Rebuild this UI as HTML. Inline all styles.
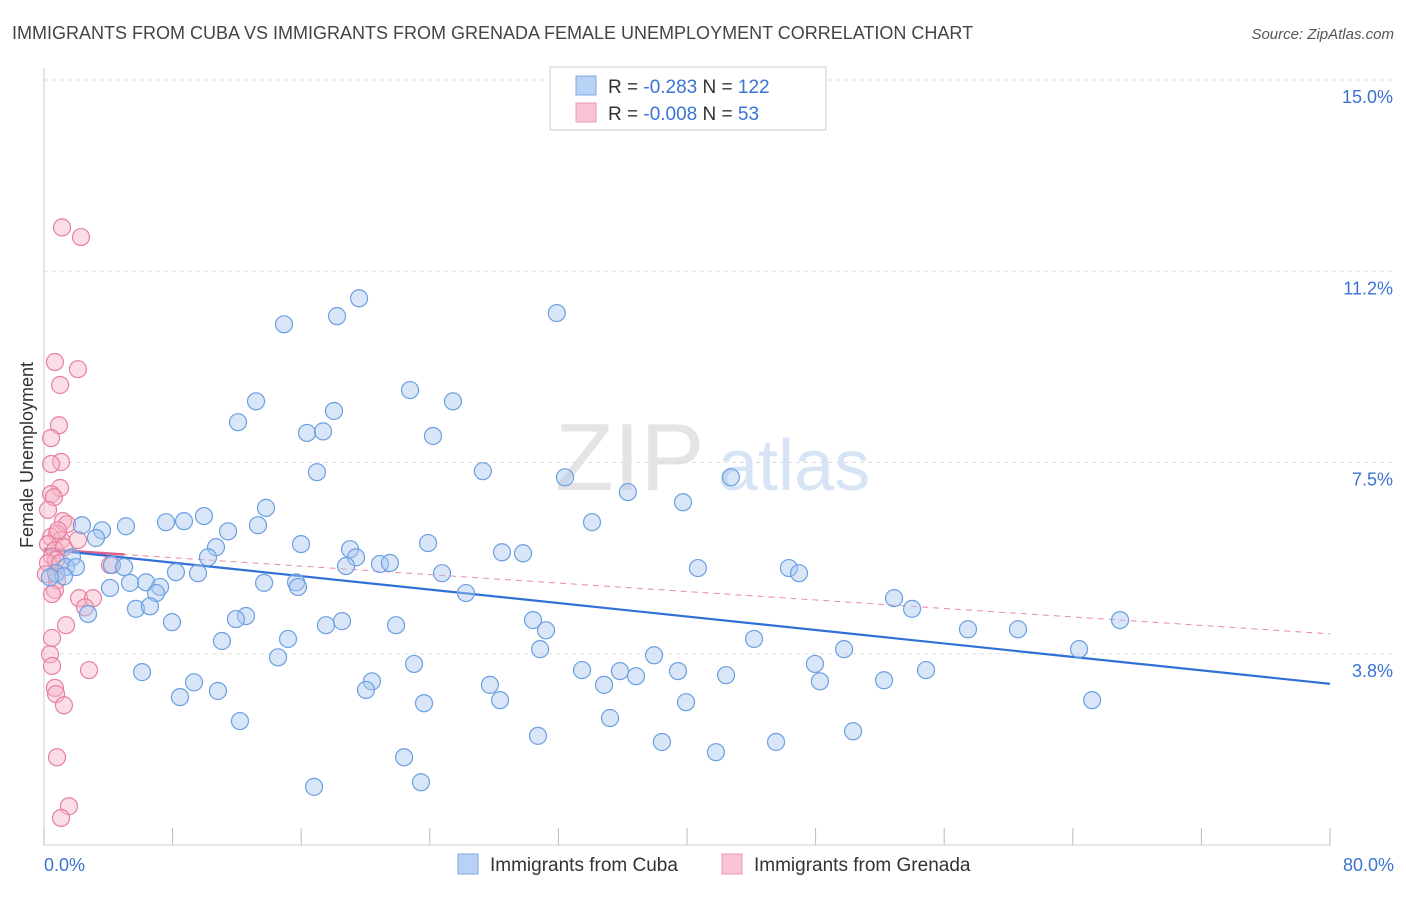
<!DOCTYPE html>
<html><head><meta charset="utf-8"><style>
body{margin:0;background:#fff;font-family:"Liberation Sans",sans-serif;}
svg text{font-family:"Liberation Sans",sans-serif;}
</style></head><body>
<svg id="chart" width="1406" height="892" viewBox="0 0 1406 892" xmlns="http://www.w3.org/2000/svg">
<text x="12" y="39" font-size="18" fill="#444">IMMIGRANTS FROM CUBA VS IMMIGRANTS FROM GRENADA FEMALE UNEMPLOYMENT CORRELATION CHART</text>
<text x="1394" y="39" font-size="15" fill="#555" text-anchor="end" font-style="italic">Source: ZipAtlas.com</text>
<g><text x="555" y="490" font-size="96" fill="#e4e4e4" font-family="Liberation Serif,serif">ZIP</text><text x="718" y="490" font-size="72" fill="#d6e4f5">atlas</text></g>
<g id="grid"></g>
<g id="axes"></g>
<g id="trends"></g>
<g id="points"></g>
<text transform="translate(33,455) rotate(-90)" font-size="18" fill="#333" text-anchor="middle">Female Unemployment</text>
<g>
<rect x="550" y="67" width="276" height="63" fill="#fff" stroke="#ccc"/>
<rect x="576" y="76" width="20" height="19" fill="#b7d2f5" stroke="#7fa8e0"/>
<rect x="576" y="103" width="20" height="19" fill="#f8c4d4" stroke="#ea9ab4"/>
<text x="608" y="93" font-size="19" fill="#333">R = <tspan fill="#3b73d4">-0.283</tspan>   N = <tspan fill="#3b73d4">122</tspan></text>
<text x="608" y="120" font-size="19" fill="#333">R = <tspan fill="#3b73d4">-0.008</tspan>   N = <tspan fill="#3b73d4">  53</tspan></text>
</g>
<g>
<rect x="458" y="854" width="20" height="20" fill="#b7d2f5" stroke="#7fa8e0"/>
<text x="490" y="871" font-size="19" fill="#333">Immigrants from Cuba</text>
<rect x="722" y="854" width="20" height="20" fill="#f8c4d4" stroke="#ea9ab4"/>
<text x="754" y="871" font-size="19" fill="#333">Immigrants from Grenada</text>
</g>
</svg>
<script>
const cubaX=[14.93,18.23,19.6,31.9,13.19,12.07,22.77,25.44,18.04,16.36,17.36,24.2,16.98,27.3,32.41,42.73,36.32,39.75,13.81,9.95,7.59,8.71,5.1,2.36,3.61,13.31,11.45,34.09,3.23,10.7,15.99,23.89,19.04,19.41,10.2,28.49,29.8,1.74,4.23,4.98,1.37,1.99,0.75,1.24,0.37,18.79,20.9,21.52,24.76,8.21,9.58,40.68,46.34,46.97,5.35,6.35,7.22,13.69,15.68,15.8,4.11,6.97,26.25,52.88,54.0,5.72,6.59,2.74,12.57,11.94,7.96,17.54,18.54,21.9,30.42,31.23,66.94,57.48,60.59,11.07,15.18,44.17,64.39,30.86,37.95,49.77,14.56,23.02,33.47,35.83,36.83,39.44,42.43,47.96,54.87,6.1,9.33,20.4,27.74,34.84,48.27,52.26,10.82,8.46,20.03,28.37,23.64,39.94,65.2,35.21,12.19,50.33,30.73,38.44,45.54,41.8,22.4,23.45,16.8];
const cubaY=[10.21,10.37,10.72,10.43,8.70,8.29,8.92,8.70,8.51,8.08,8.11,8.02,7.31,7.33,7.21,7.21,6.92,6.72,6.61,6.45,6.33,6.35,6.25,6.27,6.17,6.27,6.15,6.33,6.02,5.84,5.90,5.92,5.80,5.64,5.64,5.74,5.72,5.64,5.49,5.45,5.45,5.45,5.33,5.27,5.25,5.47,5.51,5.53,5.33,5.35,5.33,5.43,5.43,5.33,5.14,5.15,5.06,5.14,5.15,5.06,5.04,4.94,4.94,4.84,4.63,4.63,4.68,4.53,4.49,4.43,4.37,4.31,4.39,4.31,4.41,4.21,4.41,4.23,4.23,4.0,4.04,4.04,3.84,3.84,3.72,3.84,3.68,3.55,3.43,3.41,3.31,3.41,3.33,3.55,3.43,3.39,3.19,3.21,3.14,3.14,3.21,3.23,3.02,2.90,3.04,2.84,2.78,2.80,2.84,2.49,2.43,2.23,2.14,2.02,2.02,1.82,1.72,1.23,1.14];
const grenX=[1.12,2.3,0.68,2.11,1.0,0.93,0.44,1.06,0.44,1.0,0.44,0.62,0.25,1.18,1.43,0.81,0.44,1.06,0.25,0.68,1.24,0.5,0.75,0.25,1.0,4.11,0.12,0.81,0.68,0.5,2.18,3.05,2.55,1.37,0.5,0.37,0.5,2.8,0.68,0.75,1.24,0.81,1.55,1.06,2.11,0.87];
const grenY=[12.11,11.92,9.47,9.33,9.02,8.23,7.98,7.51,7.47,7.0,6.88,6.82,6.57,6.35,6.29,6.10,6.04,5.98,5.9,5.78,5.84,5.66,5.59,5.53,5.53,5.49,5.31,5.19,5.0,4.92,4.84,4.84,4.66,4.31,4.06,3.74,3.51,3.43,3.08,2.96,2.74,1.72,0.76,0.53,5.98,6.17];
const cubaTrend=[5.80,3.16];
const grenTrend=[5.80,4.14];
const yTicks=[3.8,7.5,11.2,15.0];
const yTickVals=[3.75,7.5,11.25,15.0];
const xTicks=[0,8,16,24,32,40,48,56,64,72,80];

const NS="http://www.w3.org/2000/svg";
const X0=44,X1=1330,Y0=845,YT=80;
const sx=v=>X0+(X1-X0)*v/80;
const sy=v=>Y0-(Y0-YT)*v/15;
function mk(tag,attrs,parent){const e=document.createElementNS(NS,tag);for(const k in attrs)e.setAttribute(k,attrs[k]);parent.appendChild(e);return e;}
const grid=document.getElementById('grid'),axes=document.getElementById('axes'),trends=document.getElementById('trends'),pts=document.getElementById('points');
yTickVals.forEach((v,i)=>{
  const l=mk('line',{x1:X0,x2:1394,y1:sy(v),y2:sy(v),stroke:'#ddd','stroke-dasharray':'4,4'},grid);
  
  
  const t=mk('text',{x:1393,y:sy(v)+23,'font-size':18,fill:'#3b73d4','text-anchor':'end'},axes);
  t.textContent=yTicks[i].toFixed(1)+'%';
  
  
});
const ax=mk('line',{x1:X0,x2:X0,y1:68,y2:Y0,stroke:'#ccc'},axes);


const bx=mk('line',{x1:X0,x2:X1,y1:Y0,y2:Y0,stroke:'#ccc'},axes);


xTicks.forEach(v=>{
  const l=mk('line',{x1:sx(v),x2:sx(v),y1:828,y2:Y0,stroke:'#bbb'},axes);
  
  
});
[[0,'0.0%','start',44],[80,'80.0%','end',1394]].forEach(a=>{
  const t=mk('text',{x:a[3],y:871,'font-size':18,fill:'#3b73d4','text-anchor':a[2]},axes);
  t.textContent=a[1];
  
  
});
function dots(xs,ys,fill,stroke,name){
  xs.forEach((x,i)=>{
    const c=mk('circle',{cx:sx(x),cy:sy(ys[i]),r:8.5,fill:fill,'fill-opacity':0.45,stroke:stroke,'stroke-width':1.2},pts);
    
    
  });
}
dots(grenX,grenY,'#f6b3c8','#e7809f','grenada-point');
dots(cubaX,cubaY,'#a9c8f0','#6c9fe2','cuba-point');
const t1=mk('line',{x1:sx(0),x2:sx(80),y1:sy(grenTrend[0]),y2:sy(grenTrend[1]),stroke:'#e88aa8','stroke-width':1,'stroke-dasharray':'6,5'},trends);


const t1s=mk('line',{x1:sx(0),x2:sx(5),y1:sy(grenTrend[0]),y2:sy(grenTrend[0]+(grenTrend[1]-grenTrend[0])*5/80),stroke:'#e0608a','stroke-width':2.5},trends);


const t2=mk('line',{x1:sx(0),x2:sx(80),y1:sy(cubaTrend[0]),y2:sy(cubaTrend[1]),stroke:'#2f6fd6','stroke-width':2.2},trends);


</script>
</body></html>
